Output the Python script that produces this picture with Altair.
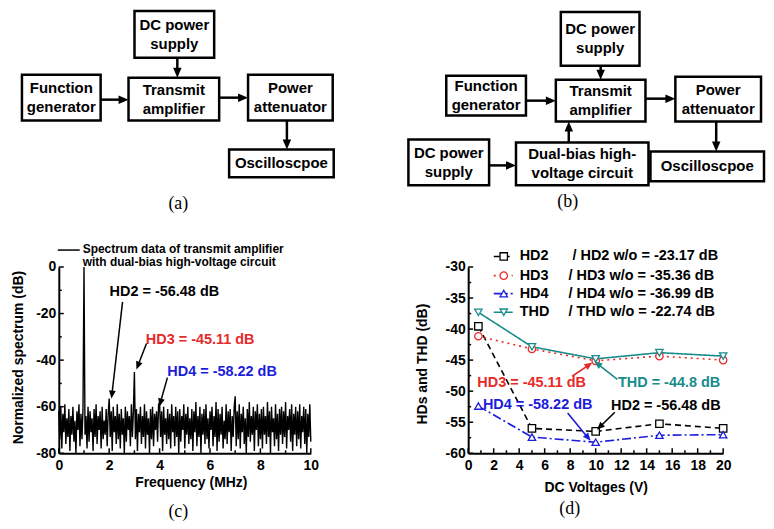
import math
import altair as alt
import numpy as np
import pandas as pd

FONT = "Liberation Sans"
SERIF = "Liberation Serif"

# ---------------- data: (c) normalized spectrum (dB), one sample every 0.04 MHz ----------------
spectrum_step_mhz = 0.04
spectrum_db = [
    -62, -74, -60, -78, -63, -71, -59, -76, -65, -73,
    -61, -79, -64, -72, -60, -75, -66, -80, -62, -70,
    -59, -77, -63, -74, -61, 0, -72, -64, -78, -60,
    -75, -62, -71, -65, -79, -61, -73, -59, -76, -64,
    -70, -62, -78, -60, -74, -66, -72, -61, -77, -63,
    -56.5, -73, -62, -79, -60, -71, -64, -76, -59, -74,
    -63, -78, -61, -72, -65, -80, -60, -75, -62, -70,
    -64, -77, -59, -73, -62, -45.1, -74, -61, -79, -63,
    -71, -60, -76, -64, -73, -59, -78, -62, -72, -65,
    -80, -61, -74, -60, -77, -63, -70, -62, -75, -59,
    -58.2, -73, -62, -79, -60, -72, -65, -76, -61, -74,
    -63, -78, -59, -71, -64, -77, -60, -73, -62, -80,
    -61, -75, -64, -70, -59, -78, -63, -72, -60, -76,
    -65, -74, -61, -79, -62, -71, -58, -77, -64, -73,
    -60, -80, -63, -72, -61, -76, -59, -74, -65, -78,
    -62, -70, -60, -77, -64, -73, -58, -79, -61, -75,
    -63, -72, -60, -78, -66, -74, -59, -76, -62, -71,
    -61, -79, -64, -73, -60, -55.5, -77, -62, -74, -59,
    -78, -63, -71, -60, -76, -65, -80, -61, -73, -58,
    -75, -64, -72, -60, -79, -62, -70, -59, -77, -63,
    -74, -61, -78, -60, -72, -64, -76, -58, -73, -62,
    -80, -60, -71, -65, -77, -59, -74, -63, -79, -61,
    -72, -60, -76, -62, -73, -58, -78, -64, -70, -61,
    -75, -59, -79, -63, -72, -60, -77, -62, -74, -59,
    -78, -64, -71, -60, -76, -61, -80, -63, -73, -59,
    -75,
]
c_legend_lines = ["Spectrum data of transmit amplifier", "with dual-bias high-voltage circuit"]
c_annot_text = ["HD2 = -56.48 dB", "HD3 = -45.11 dB", "HD4 = -58.22 dB"]

# ---------------- data: (d) harmonic distortion vs DC voltage ----------------
dc_voltage = [0.8, 5, 10, 15, 20]
hd2_db = [-39.55, -56.0, -56.48, -55.25, -56.0]
hd3_db = [-41.15, -43.2, -45.11, -44.35, -45.0]
hd4_db = [-52.4, -57.4, -58.22, -57.1, -57.0]
thd_db = [-37.3, -42.85, -44.8, -43.8, -44.35]
series = ["HD2", "HD3", "HD4", "THD"]
wo_text = ["/ HD2 w/o = -23.17 dB", "/ HD3 w/o = -35.36 dB",
           "/ HD4 w/o = -36.99 dB", "/ THD w/o = -22.74 dB"]
d_annot_text = ["HD3 = -45.11 dB", "THD = -44.8 dB", "HD4 = -58.22 dB", "HD2 = -56.48 dB"]
d_annot_series = ["HD3", "THD", "HD4", "HD2"]

# ---------------- block diagram texts ----------------
diag_a_text = ["DC power\nsupply", "Function\ngenerator", "Transmit\namplifier",
               "Power\nattenuator", "Oscilloscpoe"]
diag_b_text = ["DC power\nsupply", "Function\ngenerator", "Transmit\namplifier",
               "Power\nattenuator", "DC power\nsupply", "Dual-bias high-\nvoltage circuit",
               "Oscilloscpoe"]

# ================= layout / styles =================
series_colors = ["black", "#e62a2a", "#1c1cdc", "#178c8c"]
series_dash = [[6, 4], [2, 4], [9, 3, 2, 3], [1, 0]]
series_shape = ["square", "circle", "triangle-up", "triangle-down"]
HEAD_PATH = "M0,-1L0.85,1L-0.85,1Z"
LINE_H = 19

# diagram geometry (page pixel frame)
diag_a_geom = [(134, 10, 214, 57), (21, 74, 100, 120), (128, 77, 219, 120),
               (248, 74, 333, 120), (229, 149, 334, 177)]
diag_a_arrows = [(177, 57, 177, 77), (100, 99, 128, 99), (219, 97, 248, 97), (287, 120, 287, 149)]
diag_b_geom = [(562, 11, 641, 65), (447, 75, 527, 115), (557, 79, 647, 121),
               (677, 76, 763, 121), (409, 139, 490, 185), (517, 142, 650, 185),
               (652, 151, 766, 181)]
diag_b_arrows = [(602, 65, 602, 79), (527, 100, 557, 100), (647, 98, 677, 98),
                 (718, 121, 718, 151), (490, 165, 517, 165), (570, 142, 570, 121)]


def arrow_frames(arrows, head_len, sx, sy, y_down):
    rules, heads = [], []
    sgn = 1 if y_down else -1
    for (x0, y0, x1, y1) in arrows:
        dxp = (x1 - x0) * sx
        dyp = (y1 - y0) * sy * sgn
        L = math.hypot(dxp, dyp)
        ux, uy = dxp / L, dyp / L
        ang = math.degrees(math.atan2(ux, -uy)) % 360
        ex = x1 - ux * 0.8 * head_len / sx
        ey = y1 - uy * 0.8 * head_len / sy * sgn
        hx = x1 - ux * 0.5 * head_len / sx
        hy = y1 - uy * 0.5 * head_len / sy * sgn
        rules.append(dict(x=x0, y=y0, x2=ex, y2=ey))
        heads.append(dict(x=hx, y=hy, ang=ang))
    return pd.DataFrame(rules), pd.DataFrame(heads)


def diagram(texts, geom, arrows, label, label_xy, xdom, ydom, width, height):
    bdf = pd.DataFrame(geom, columns=["x1", "y1", "x2", "y2"])
    bdf["text"] = texts
    bdf["cx"] = (bdf.x1 + bdf.x2) / 2
    nlines = np.array([t.count("\n") + 1 for t in texts])
    bdf["cy"] = (bdf.y1 + bdf.y2) / 2 - (nlines - 1) * LINE_H / 2
    xs = alt.Scale(domain=xdom, nice=False, zero=False)
    ys = alt.Scale(domain=ydom, nice=False, zero=False, reverse=True)
    rects = alt.Chart(bdf).mark_rect(fill="white", stroke="black", strokeWidth=2.5).encode(
        x=alt.X("x1:Q", scale=xs, axis=None), x2="x2:Q",
        y=alt.Y("y1:Q", scale=ys, axis=None), y2="y2:Q")
    txt = alt.Chart(bdf).mark_text(font=FONT, fontWeight="bold", fontSize=15, lineHeight=LINE_H,
                                   lineBreak="\n", align="center", baseline="middle",
                                   color="black").encode(
        x=alt.X("cx:Q", scale=xs, axis=None), y=alt.Y("cy:Q", scale=ys, axis=None), text="text:N")
    rdf, hdf = arrow_frames(arrows, 10, 1.0, 1.0, True)
    rules = alt.Chart(rdf).mark_rule(color="black", strokeWidth=2.5).encode(
        x=alt.X("x:Q", scale=xs, axis=None), y=alt.Y("y:Q", scale=ys, axis=None), x2="x2:Q", y2="y2:Q")
    heads = alt.Chart(hdf).mark_point(shape=HEAD_PATH, filled=True, color="black", opacity=1,
                                      size=100).encode(
        x=alt.X("x:Q", scale=xs, axis=None), y=alt.Y("y:Q", scale=ys, axis=None),
        angle=alt.Angle("ang:Q", scale=None))
    lab = alt.Chart(pd.DataFrame({"x": [label_xy[0]], "y": [label_xy[1]], "t": [label]})).mark_text(
        font=SERIF, fontSize=18, color="black", baseline="middle").encode(
        x=alt.X("x:Q", scale=xs, axis=None), y=alt.Y("y:Q", scale=ys, axis=None), text="t:N")
    return alt.layer(rules, heads, rects, txt, lab).properties(width=width, height=height)


def make_axis(**kw):
    base = dict(domainColor="black", domainWidth=2, ticks=False, tickSize=0, grid=False,
                labelFont=FONT, labelFontWeight="bold", labelFontSize=14, labelColor="black",
                labelFlush=False, labelOverlap=False, labelExpr="'' + datum.value",
                titleFont=FONT, titleFontWeight="bold", titleFontSize=14, titleColor="black",
                titleBaseline="middle")
    base.update(kw)
    return alt.Axis(**base)


def tick_layers(xmaj, xmin, ymaj, ymin, xs, ys, xax, yax, H):
    out = []
    for vals, ln in ((xmaj, 5), (xmin, 3)):
        out.append(alt.Chart(pd.DataFrame({"v": vals})).mark_rule(color="black", strokeWidth=1.5).encode(
            x=alt.X("v:Q", scale=xs, axis=xax), y=alt.value(H), y2=alt.value(H - ln)))
    for vals, ln in ((ymaj, 5), (ymin, 3)):
        out.append(alt.Chart(pd.DataFrame({"v": vals})).mark_rule(color="black", strokeWidth=1.5).encode(
            y=alt.Y("v:Q", scale=ys, axis=yax), x=alt.value(0), x2=alt.value(ln)))
    return out


def anchor(x, y):
    # tiny white rule that only fixes the panel's layout bounds
    return alt.Chart(pd.DataFrame({"a": [0]})).mark_rule(color="white", strokeWidth=1).encode(
        x=alt.value(x), x2=alt.value(x + 1), y=alt.value(y + 0.5))


# ================= (a) and (b) =================
panel_a = diagram(diag_a_text, diag_a_geom, diag_a_arrows, "(a)", (178, 204), [58, 388], [8, 232], 330, 224)
panel_b = diagram(diag_b_text, diag_b_geom, diag_b_arrows, "(b)", (569, 202), [390, 766], [8, 232], 376, 224)

# ================= (c) =================
CW, CH = 253, 187
cxs = alt.Scale(domain=[0, 10], nice=False, zero=False)
cys = alt.Scale(domain=[-80, 0], nice=False, zero=False)
sx_c, sy_c = CW / 10, CH / 80
c_xax = make_axis(values=[0, 2, 4, 6, 8, 10], title="Frequency (MHz)", labelPadding=5,
                  titleY=29, titleX=CW / 2 + 6)
c_yax = make_axis(values=[-80, -60, -40, -20, 0], title="Normalized spectrum (dB)", labelPadding=3,
                  titleX=-40, titleY=CH / 2 - 3, titleAngle=270)


def cX(f):
    return alt.X(f, scale=cxs, axis=c_xax)


def cY(f):
    return alt.Y(f, scale=cys, axis=c_yax)


spec_df = pd.DataFrame({"f": np.arange(len(spectrum_db)) * spectrum_step_mhz, "db": spectrum_db})
c_layers = [alt.Chart(spec_df).mark_line(color="black", strokeWidth=1.4).encode(x=cX("f:Q"), y=cY("db:Q"))]
c_layers += tick_layers([0, 2, 4, 6, 8, 10], [1, 3, 5, 7, 9], [-80, -60, -40, -20, 0],
                        [-70, -50, -30, -10], cxs, cys, c_xax, c_yax, CH)

c_annot_xy = [(4.19, -10.7), (5.61, -31.2), (6.48, -44.9)]
c_annot_col = ["black", "#e62a2a", "#1c1cdc"]
for t, (x, y), col in zip(c_annot_text, c_annot_xy, c_annot_col):
    c_layers.append(alt.Chart(pd.DataFrame({"x": [x], "y": [y], "t": [t]})).mark_text(
        font=FONT, fontWeight="bold", fontSize=14.5, color=col, baseline="middle").encode(
        x=cX("x:Q"), y=cY("y:Q"), text="t:N"))

c_arrows = [(2.53, -14.97, 2.09, -56.5), (3.48, -32.9, 3.08, -44.0), (4.31, -47.5, 3.99, -59.9)]
rdf, hdf = arrow_frames(c_arrows, 8, sx_c, sy_c, False)
c_layers.append(alt.Chart(rdf).mark_rule(color="black", strokeWidth=1.5).encode(
    x=cX("x:Q"), y=cY("y:Q"), x2="x2:Q", y2="y2:Q"))
c_layers.append(alt.Chart(hdf).mark_point(shape=HEAD_PATH, filled=True, color="black", opacity=1,
                                          size=64).encode(
    x=cX("x:Q"), y=cY("y:Q"), angle=alt.Angle("ang:Q", scale=None)))

# legend of (c), above the plot
one = pd.DataFrame({"a": [0]})
c_layers.append(alt.Chart(one).mark_rule(color="black", strokeWidth=1.5).encode(
    x=alt.value(-1), x2=alt.value(21), y=alt.value(-17)))
for t, yy in zip(c_legend_lines, [-18, -5]):
    c_layers.append(alt.Chart(one).mark_text(font=FONT, fontWeight="bold", fontSize=12, align="left",
                                             baseline="middle", color="black").encode(
        x=alt.value(24), y=alt.value(yy), text=alt.value(t)))
c_layers.append(alt.Chart(one).mark_text(font=SERIF, fontSize=18, color="black", baseline="middle").encode(
    x=alt.value(120), y=alt.value(246), text=alt.value("(c)")))
c_layers.append(anchor(-50, -32))
c_layers.append(anchor(267, -32))
panel_c = alt.layer(*c_layers).properties(width=CW, height=CH)

# ================= (d) =================
DW, DH = 256, 187
dxs = alt.Scale(domain=[0, 20], nice=False, zero=False)
dys = alt.Scale(domain=[-60, -30], nice=False, zero=False)
sx_d, sy_d = DW / 20, DH / 30
d_xax = make_axis(values=list(range(0, 21, 2)), title="DC Voltages (V)", labelPadding=5, titleY=34)
d_yax = make_axis(values=[-60, -55, -50, -45, -40, -35, -30], title="HDs and THD (dB)", labelPadding=3,
                  titleX=-46, titleY=97, titleAngle=270)


def dX(f):
    return alt.X(f, scale=dxs, axis=d_xax)


def dY(f):
    return alt.Y(f, scale=dys, axis=d_yax)


col_scale = alt.Scale(domain=series, range=series_colors)
dash_scale = alt.Scale(domain=series, range=series_dash)
shape_scale = alt.Scale(domain=series, range=series_shape)
COLOR = alt.Color("series:N", scale=col_scale, legend=None)
DASH = alt.StrokeDash("series:N", scale=dash_scale, legend=None)
SHAPE = alt.Shape("series:N", scale=shape_scale, legend=None)

long_rows = []
for name, vals in zip(series, [hd2_db, hd3_db, hd4_db, thd_db]):
    for v, db in zip(dc_voltage, vals):
        long_rows.append({"series": name, "v": v, "db": db})
d_df = pd.DataFrame(long_rows)

d_layers = [
    alt.Chart(d_df).mark_line(strokeWidth=1.6).encode(x=dX("v:Q"), y=dY("db:Q"), color=COLOR,
                                                      strokeDash=DASH, detail="series:N"),
    alt.Chart(d_df).mark_point(filled=False, fill="white", size=55, strokeWidth=1.3, opacity=1).encode(
        x=dX("v:Q"), y=dY("db:Q"), color=COLOR, shape=SHAPE),
]
d_layers += tick_layers(list(range(0, 21, 2)), list(range(1, 20, 2)),
                        [-60, -55, -50, -45, -40, -35, -30],
                        [-57.5, -52.5, -47.5, -42.5, -37.5, -32.5], dxs, dys, d_xax, d_yax, DH)

# legend of (d) (pixel offsets from plot origin -> data units)
leg_py = [-10.6, 8.7, 26.7, 45.4]
leg_wo_px = [104.7, 100.7, 100.7, 100.7]
leg = pd.DataFrame({
    "series": series,
    "y": [-30 - p / sy_d for p in leg_py],
    "x0": 25.7 / sx_d, "x1": 44.7 / sx_d, "xs": 35.7 / sx_d, "xt": 51.7 / sx_d,
    "xw": [p / sx_d for p in leg_wo_px],
    "wo": wo_text,
})
d_layers.append(alt.Chart(leg).mark_rule(strokeWidth=1.6).encode(
    x=dX("x0:Q"), x2="x1:Q", y=dY("y:Q"), color=COLOR, strokeDash=DASH))
d_layers.append(alt.Chart(leg).mark_point(filled=False, fill="white", size=55, strokeWidth=1.3, opacity=1).encode(
    x=dX("xs:Q"), y=dY("y:Q"), color=COLOR, shape=SHAPE))
d_layers.append(alt.Chart(leg).mark_text(font=FONT, fontWeight="bold", fontSize=14.5, align="left",
                                         baseline="middle", color="black").encode(
    x=dX("xt:Q"), y=dY("y:Q"), text="series:N"))
d_layers.append(alt.Chart(leg).mark_text(font=FONT, fontWeight="bold", fontSize=14.5, align="left",
                                         baseline="middle", color="black").encode(
    x=dX("xw:Q"), y=dY("y:Q"), text="wo:N"))

# annotations of (d)
d_annot_xy = [(4.98, -48.76), (15.76, -48.76), (5.45, -52.3), (15.5, -52.45)]
ad = pd.DataFrame({"series": d_annot_series, "t": d_annot_text,
                   "x": [p[0] for p in d_annot_xy], "y": [p[1] for p in d_annot_xy]})
d_layers.append(alt.Chart(ad).mark_text(font=FONT, fontWeight="bold", fontSize=14.5, baseline="middle").encode(
    x=dX("x:Q"), y=dY("y:Q"), text="t:N", color=COLOR))
d_arrows = [(8.16, -47.6, 9.74, -45.4), (11.7, -48.1, 9.9, -45.2),
            (7.8, -53.5, 9.6, -58.0), (11.5, -53.4, 10.1, -56.2)]
rdf, hdf = arrow_frames(d_arrows, 8, sx_d, sy_d, False)
rdf["series"] = d_annot_series
hdf["series"] = d_annot_series
d_layers.append(alt.Chart(rdf).mark_rule(strokeWidth=1.6).encode(
    x=dX("x:Q"), y=dY("y:Q"), x2="x2:Q", y2="y2:Q", color=COLOR))
d_layers.append(alt.Chart(hdf).mark_point(shape=HEAD_PATH, filled=True, opacity=1, size=64).encode(
    x=dX("x:Q"), y=dY("y:Q"), angle=alt.Angle("ang:Q", scale=None), color=COLOR))
d_layers.append(alt.Chart(one).mark_text(font=SERIF, fontSize=18, color="black", baseline="middle").encode(
    x=alt.value(102), y=alt.value(243), text=alt.value("(d)")))
d_layers.append(anchor(-61, -32))
panel_d = alt.layer(*d_layers).properties(width=DW, height=DH)

top = alt.hconcat(panel_a, panel_b, spacing=2)
bottom = alt.hconcat(panel_c, panel_d, spacing=80)
chart = alt.vconcat(top, bottom, spacing=3).properties(padding=0).configure_view(stroke=None)

chart.save("out.html", embed_options={"renderer": "svg", "actions": False})
